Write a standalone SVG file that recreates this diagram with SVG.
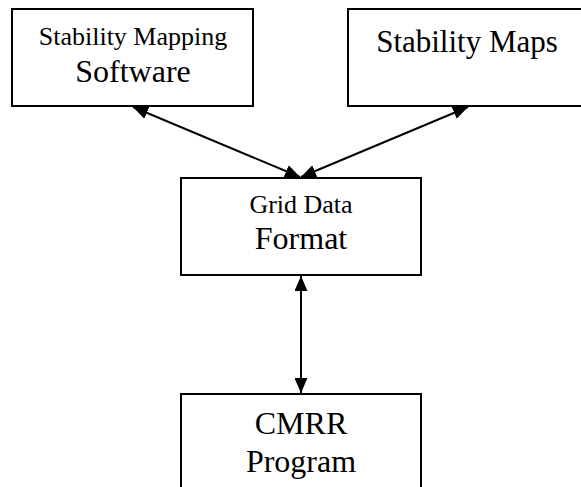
<svg xmlns="http://www.w3.org/2000/svg" width="581" height="487" viewBox="0 0 581 487">
<style>
.box{fill:#fff;stroke:#000;stroke-width:2}
.t{font-family:"Liberation Serif","Times New Roman",serif;fill:#000;text-anchor:middle}
.s{font-size:26px}
.l{font-size:32px}
.m{font-size:31px}
.c{stroke:#000;stroke-width:2;fill:none}
</style>
<defs>
<marker id="ah" viewBox="0 0 15 13" refX="15" refY="6.5" markerWidth="15" markerHeight="13" markerUnits="userSpaceOnUse" orient="auto-start-reverse">
<path d="M0,0 L15,6.5 L0,13 Z" fill="#000"/>
</marker>
</defs>
<g id="connectors">
<line class="c" x1="133" y1="107" x2="300" y2="177" marker-start="url(#ah)" marker-end="url(#ah)"/>
<line class="c" x1="468" y1="107" x2="301" y2="177" marker-start="url(#ah)" marker-end="url(#ah)"/>
<line class="c" x1="301" y1="276" x2="301" y2="393" marker-start="url(#ah)" marker-end="url(#ah)"/>
</g>
<g id="stability-mapping-software">
<rect class="box" x="12" y="9" width="241" height="97"/>
<text class="t s" x="133" y="45">Stability Mapping</text>
<text class="t l" x="133" y="82">Software</text>
</g>
<g id="stability-maps">
<rect class="box" x="348" y="9" width="245" height="97"/>
<text class="t m" x="467" y="52">Stability Maps</text>
</g>
<g id="grid-data-format">
<rect class="box" x="181" y="178" width="240" height="97"/>
<text class="t s" x="301" y="213">Grid Data</text>
<text class="t l" x="301" y="249">Format</text>
</g>
<g id="cmrr-program">
<rect class="box" x="181" y="394" width="240" height="100"/>
<text class="t l" x="301" y="434">CMRR</text>
<text class="t l" x="301" y="472">Program</text>
</g>
</svg>
